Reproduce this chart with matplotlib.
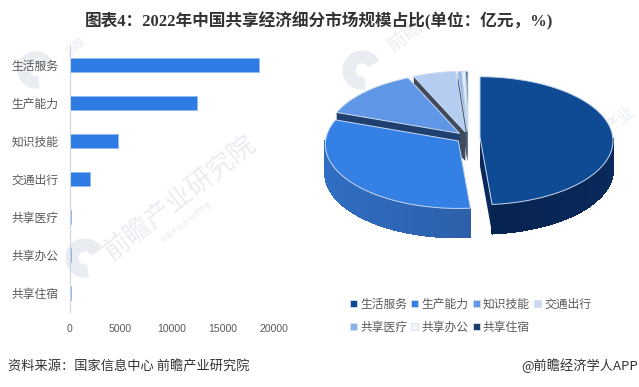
import numpy as np
import matplotlib
matplotlib.use("Agg")
import matplotlib.pyplot as plt
from matplotlib.patches import Patch, Polygon, Wedge

plt.rcParams['font.family'] = ['Noto Sans CJK SC', 'DejaVu Sans']

categories = ['生活服务', '生产能力', '知识技能', '交通出行', '共享医疗', '共享办公', '共享住宿']
values = [18600, 12530, 4760, 1980, 170, 170, 100]
bar_ticks = [0, 5000, 10000, 15000, 20000]

top_colors = ['#0F4A94', '#3480E4', '#5F97E6', '#B4CDF1', '#8DB4E8', '#E6EDF7', '#1D3F70']
wall_left = ['#0A2A5C', '#2F6EC4', '#1F3F70', '#3F4A5C', '#4A5A70', '#8A93A0', '#14294A']
wall_right = ['#041A40', '#2A5490', '#1F3F70', '#3F4A5C', '#4A5A70', '#8A93A0', '#14294A']

W, H = 639, 387
fig = plt.figure(figsize=(W / 100, H / 100), dpi=100)

# page layer in pixel coordinates, for watermark and text
page = fig.add_axes([0, 0, 1, 1])
page.set_xlim(0, W)
page.set_ylim(H, 0)
page.axis('off')

wm = '#E9EDF2'
for lx, ly, r in [(36, 70, 18), (362, 70, 19), (85, 258, 19)]:
    page.add_patch(Wedge((lx, ly), r, 80, 330, width=r * 0.62, color=wm, zorder=0))
page.text(180, 198, '前瞻产业研究院', fontsize=19, rotation=38, color=wm,
          ha='center', va='center', zorder=0)
page.text(186, 222, '中国产业咨询领导者', fontsize=5, rotation=38, color=wm,
          ha='center', va='center', zorder=0)
page.text(620, 120, '产业', fontsize=12, rotation=38, color=wm, ha='center', va='center', zorder=0)
page.text(405, 36, '前瞻', fontsize=14, rotation=38, color=wm, ha='center', va='center', zorder=0)
page.text(76, 47, '前瞻', fontsize=8, rotation=38, color=wm, ha='center', va='center', zorder=0)

page.text(319, 21, '图表4：2022年中国共享经济细分市场规模占比(单位：亿元，%)', fontsize=12,
          fontweight='bold', color='#333333', ha='center', va='center',
          family=['Liberation Serif', 'Noto Sans CJK SC'])
page.text(8, 366, '资料来源：国家信息中心 前瞻产业研究院', fontsize=9.5, color='#333333', va='center')
page.text(638, 366, '@前瞻经济学人APP', fontsize=9.5, color='#333333', ha='right', va='center')

# bar chart
ax = fig.add_axes([69.5 / W, 1 - 312 / H, 204 / W, 266 / H])
ax.patch.set_alpha(0)
pos = np.arange(len(categories))
ax.barh(pos, values, height=0.36, color='#2F7BE4', edgecolor='#8DBBF0', linewidth=0.5)
ax.set_xlim(0, 20000)
ax.set_ylim(6.5, -0.5)
ax.set_yticks(pos)
ax.set_yticklabels(categories, fontsize=8.5, color='#595959')
ax.set_xticks(bar_ticks)
ax.set_xticklabels([str(t) for t in bar_ticks], fontsize=7.6, color='#595959',
                   family='Liberation Sans')
ax.tick_params(length=0)
ax.tick_params(axis='y', pad=8)
ax.tick_params(axis='x', pad=9)
for s in ['top', 'right', 'bottom']:
    ax.spines[s].set_visible(False)
ax.spines['left'].set_color('#CBD5E0')
ax.spines['left'].set_linewidth(0.8)

# exploded 3d pie, angles from values, drawn on the page layer
cx, cy = 468, 141
a, b = 133, 64
apex_up = 3.5
depth = 29
explode = 12

total = sum(values)
edges = np.concatenate([[0], np.cumsum(values)]) / total * 2 * np.pi


def rim(t, dx, dy):
    return cx + dx + a * np.sin(t), cy + dy - b * np.cos(t)


def mix(c1, c2, f):
    c1 = np.array(matplotlib.colors.to_rgb(c1))
    c2 = np.array(matplotlib.colors.to_rgb(c2))
    return tuple(c1 + (c2 - c1) * f)


# back slices first, so the front ones cover them
for i in range(len(values) - 1, -1, -1):
    t0, t1 = edges[i], edges[i + 1]
    mid = (t0 + t1) / 2
    dx = explode * np.sin(mid)
    dy = -explode * np.cos(mid) * b / a
    ax_, ay_ = cx + dx, cy + dy - apex_up
    ts = np.linspace(t0, t1, 120)
    xs, ys = rim(ts, dx, dy)
    z = 2 + (7 - i) * 0.1

    # the two cut faces
    for t in [t0, t1]:
        rx, ry = rim(t, dx, dy)
        page.add_patch(Polygon([(ax_, ay_), (rx, ry), (rx, ry + depth), (ax_, ay_ + depth)],
                               color=wall_left[i], lw=0, zorder=z))

    # outer wall, in thin strips for the shading
    for k in range(len(ts) - 1):
        if np.cos(ts[k]) > 0.05:
            continue
        f = (np.sin(ts[k]) + 1) / 2
        if i == 0:
            f = 1 - f
        col = mix(wall_left[i], wall_right[i], f)
        page.add_patch(Polygon([(xs[k], ys[k]), (xs[k + 1], ys[k + 1]),
                                (xs[k + 1], ys[k + 1] + depth), (xs[k], ys[k] + depth)],
                               facecolor=col, edgecolor=col, lw=0.8, antialiased=False, zorder=z))

    # top face with its pale bevel line
    pts = [(ax_, ay_)] + list(zip(xs, ys))
    page.add_patch(Polygon(pts, closed=True, facecolor=top_colors[i], edgecolor='#C9D8EE',
                           linewidth=0.7, zorder=z + 0.01))

# legend in two rows, matplotlib fills it by column
handles = [Patch(facecolor=c, edgecolor='#D5DFEC', linewidth=0.6) for c in
           ['#0F4A94', '#3480E4', '#5F97E6', '#C9DBF4', '#8DB4E8', '#F2F5FA', '#1D3F70']]
order = [0, 4, 1, 5, 2, 6, 3]
page.legend([handles[k] for k in order], [categories[k] for k in order], ncols=4,
            loc='center', bbox_to_anchor=(470.5, 315.5), bbox_transform=page.transData,
            frameon=False, fontsize=8.5, labelcolor='#595959', handlelength=0.62,
            handleheight=0.62, handletextpad=0.25, columnspacing=0.35, labelspacing=0.85,
            borderpad=0, borderaxespad=0)

fig.savefig('out.png', dpi=100)
